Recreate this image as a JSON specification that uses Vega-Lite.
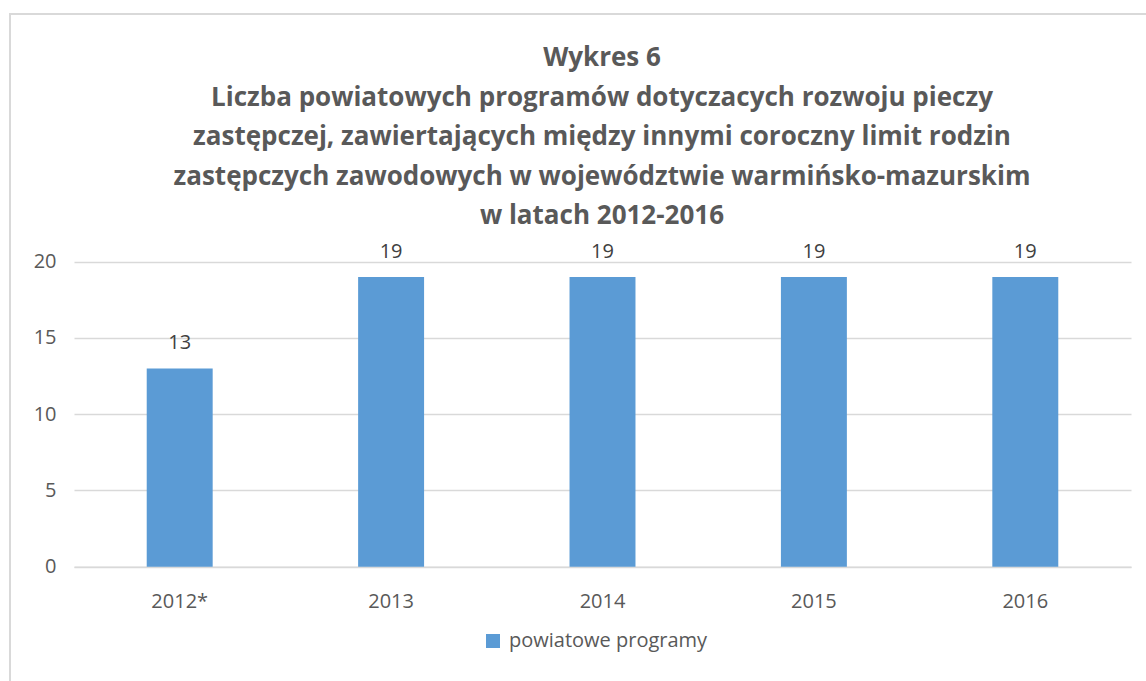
{
  "$schema": "https://vega.github.io/schema/vega-lite/v6.json",
  "autosize": {"type": "none"},
  "padding": {"left": 10, "top": 14, "right": 0, "bottom": 0},
  "width": 1140,
  "height": 680,
  "background": "white",
  "config": {
    "view": {"stroke": "#d9d9d9", "strokeWidth": 2},
    "font": "Open Sans"
  },
  "title": {
    "text": [
      "Wykres 6",
      "Liczba powiatowych programów dotyczacych rozwoju pieczy",
      "zastępczej, zawiertających między innymi coroczny limit rodzin",
      "zastępczych zawodowych w województwie warmińsko-mazurskim",
      "w latach 2012-2016"
    ],
    "anchor": "middle",
    "frame": "group",
    "font": "Open Sans",
    "fontSize": 26,
    "fontWeight": "bold",
    "color": "#595959",
    "lineHeight": 39.5,
    "offset": -215,
    "dx": 22
  },
  "data": {
    "values": [
      {"rok": "2012*", "wartosc": 13, "seria": "powiatowe programy"},
      {"rok": "2013", "wartosc": 19, "seria": "powiatowe programy"},
      {"rok": "2014", "wartosc": 19, "seria": "powiatowe programy"},
      {"rok": "2015", "wartosc": 19, "seria": "powiatowe programy"},
      {"rok": "2016", "wartosc": 19, "seria": "powiatowe programy"}
    ]
  },
  "encoding": {
    "x": {
      "field": "rok",
      "type": "nominal",
      "sort": null,
      "title": null,
      "scale": {"range": [64, 1121], "paddingInner": 0.688, "paddingOuter": 0.344},
      "axis": {
        "orient": "bottom",
        "offset": -127.3,
        "domainColor": "#d9d9d9",
        "domainWidth": 1.5,
        "ticks": false,
        "labelPadding": 25,
        "labelFont": "Open Sans",
        "labelFontSize": 20,
        "labelColor": "#595959",
        "labelAngle": 0,
        "grid": false
      }
    },
    "y": {
      "field": "wartosc",
      "type": "quantitative",
      "title": null,
      "scale": {"domain": [0, 20], "range": [552.7, 247.7], "nice": false},
      "axis": {
        "orient": "left",
        "offset": -64,
        "values": [0, 5, 10, 15, 20],
        "domain": false,
        "ticks": false,
        "labelPadding": 18,
        "labelFont": "Open Sans",
        "labelFontSize": 20,
        "labelColor": "#595959",
        "grid": true,
        "gridColor": "#d9d9d9",
        "gridWidth": 1.5
      }
    }
  },
  "layer": [
    {
      "mark": {"type": "bar"},
      "encoding": {
        "color": {
          "field": "seria",
          "type": "nominal",
          "title": null,
          "scale": {"range": ["#5b9bd5"]},
          "legend": {
            "orient": "none",
            "legendX": 473,
            "legendY": 617,
            "padding": 0,
            "symbolType": "square",
            "symbolSize": 196,
            "symbolStrokeWidth": 0,
            "labelOffset": 6,
            "labelLimit": 0,
            "labelFont": "Open Sans",
            "labelFontSize": 20,
            "labelColor": "#595959"
          }
        }
      }
    },
    {
      "mark": {
        "type": "text",
        "baseline": "alphabetic",
        "dy": -19,
        "font": "Open Sans",
        "fontSize": 20,
        "color": "#404040"
      },
      "encoding": {
        "text": {"field": "wartosc", "type": "quantitative"}
      }
    }
  ]
}
